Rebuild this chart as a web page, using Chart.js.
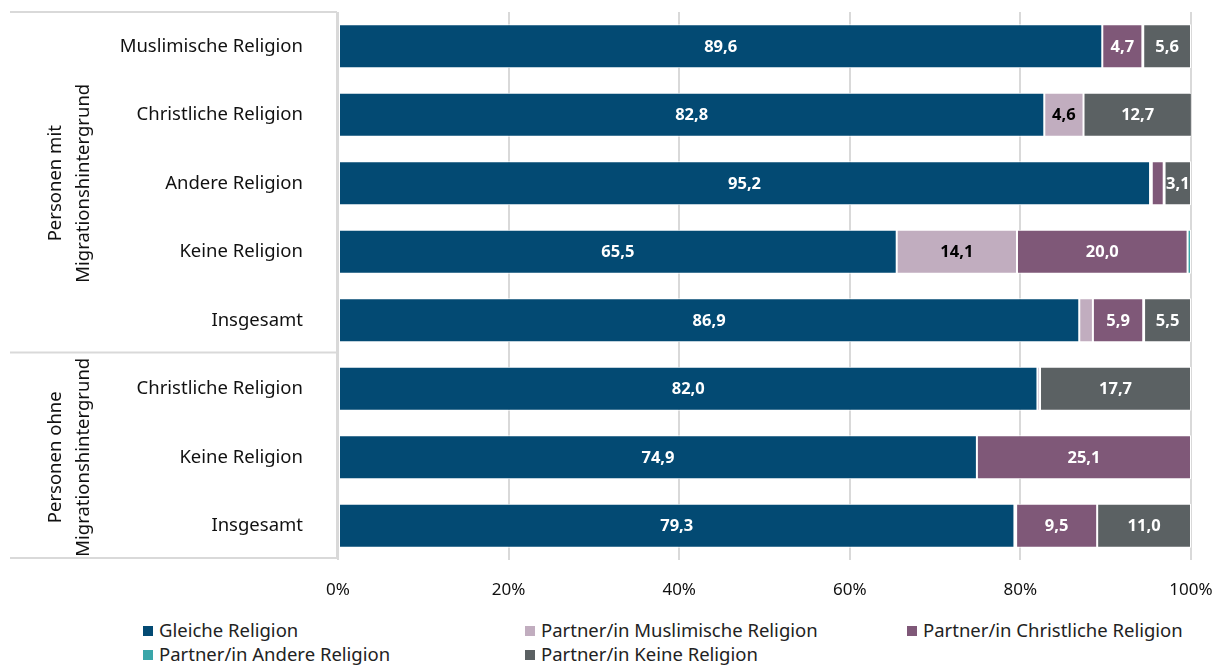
<!DOCTYPE html>
<html lang="de">
<head>
<meta charset="utf-8">
<script src="https://cdn.jsdelivr.net/npm/chart.js@4.4.1/dist/chart.umd.min.js"></script>
<style>
  body { margin: 0; background: #fff; font-family: "Noto Sans", sans-serif; }
  #wrap { position: relative; width: 1224px; height: 666px; }
  #chart { position: absolute; left: 0; top: 0; }
  .leg { position: absolute; font-size: 18.5px; color: #222; white-space: nowrap; line-height: 22px; }
  .leg i { display: inline-block; width: 10px; height: 10px; margin-right: 6px; vertical-align: 1px; }
</style>
</head>
<body>
<div id="wrap">
  <canvas id="chart" width="1224" height="610"></canvas>
  <div id="legend"></div>
</div>
<script>
const categories = ['Muslimische Religion', 'Christliche Religion', 'Andere Religion', 'Keine Religion',
  'Insgesamt', 'Christliche Religion', 'Keine Religion', 'Insgesamt'];
const groups = [
  { lines: ['Personen mit', 'Migrationshintergrund'], from: 0, to: 4 },
  { lines: ['Personen ohne', 'Migrationshintergrund'], from: 5, to: 7 }
];
const xTicks = [0, 20, 40, 60, 80, 100];

const gleiche   = [89.6, 82.8, 95.2, 65.5, 86.9, 82.0, 74.9, 79.3];
const muslim    = [0, 4.6, 0.2, 14.1, 1.6, 0.3, 0, 0.2];
const christ    = [4.7, 0, 1.4, 20.0, 5.9, 0, 25.1, 9.5];
const andere    = [0.1, 0, 0.1, 0.4, 0.1, 0, 0, 0];
const keine     = [5.6, 12.7, 3.1, 0, 5.5, 17.7, 0, 11.0];

const series = [
  { label: 'Gleiche Religion', data: gleiche, color: '#034a73', text: '#fff' },
  { label: 'Partner/in Muslimische Religion', data: muslim, color: '#c1adbf', text: '#000' },
  { label: 'Partner/in Christliche Religion', data: christ, color: '#7f5878', text: '#fff' },
  { label: 'Partner/in Andere Religion', data: andere, color: '#3aa6a9', text: '#fff' },
  { label: 'Partner/in Keine Religion', data: keine, color: '#5b6163', text: '#fff' }
];

const FONT = '"Noto Sans", sans-serif';
const LINE = '#d9d9d9';

// Werte in die Balken schreiben
const valueLabels = {
  id: 'valueLabels',
  afterDatasetsDraw(chart) {
    const ctx = chart.ctx;
    ctx.save();
    ctx.font = 'bold 16.5px ' + FONT;
    ctx.textAlign = 'center';
    ctx.textBaseline = 'middle';
    chart.data.datasets.forEach((ds, i) => {
      const meta = chart.getDatasetMeta(i);
      meta.data.forEach((bar, j) => {
        const v = ds.data[j];
        if (v < 3) return;
        ctx.fillStyle = series[i].text;
        ctx.fillText(v.toFixed(1).replace('.', ','), (bar.x + bar.base) / 2, bar.y + 1);
      });
    });
    ctx.restore();
  }
};

// Gruppen-Beschriftung links mit Rahmenlinien
const groupBox = {
  id: 'groupBox',
  afterDraw(chart) {
    const ctx = chart.ctx;
    const y = chart.scales.y;
    const area = chart.chartArea;
    const step = y.getPixelForValue(1) - y.getPixelForValue(0);
    ctx.save();
    ctx.strokeStyle = LINE;
    ctx.lineWidth = 2;
    const xr = area.left - 1;
    const edges = [area.top];
    groups.forEach(g => edges.push(y.getPixelForValue(g.to) + step / 2 - 2));
    ctx.beginPath();
    edges.forEach(e => { ctx.moveTo(10, e); ctx.lineTo(xr, e); });
    ctx.moveTo(xr, area.top);
    ctx.lineTo(xr, edges[edges.length - 1]);
    ctx.stroke();

    ctx.fillStyle = '#111';
    ctx.font = '18.5px ' + FONT;
    ctx.textAlign = 'center';
    ctx.textBaseline = 'middle';
    groups.forEach(g => {
      const cy = (y.getPixelForValue(g.from) + y.getPixelForValue(g.to)) / 2;
      g.lines.forEach((t, k) => {
        ctx.save();
        ctx.translate(56 + k * 28, cy);
        ctx.rotate(-Math.PI / 2);
        ctx.fillText(t, 0, 0);
        ctx.restore();
      });
    });
    ctx.restore();
  }
};

new Chart(document.getElementById('chart'), {
  type: 'bar',
  data: {
    labels: categories,
    datasets: series.map(s => ({
      label: s.label,
      data: s.data,
      backgroundColor: s.color,
      borderColor: '#fff',
      borderWidth: 1,
      borderSkipped: false,
      barPercentage: 0.64,
      categoryPercentage: 1
    }))
  },
  options: {
    indexAxis: 'y',
    responsive: false,
    animation: false,
    layout: { padding: { top: 12, right: 33, left: 0, bottom: 0 } },
    plugins: { legend: { display: false }, tooltip: { enabled: false } },
    scales: {
      x: {
        stacked: true,
        min: 0,
        max: 100,
        afterBuildTicks: s => { s.ticks = xTicks.map(v => ({ value: v })); },
        afterFit: s => { s.height = 50; s.paddingLeft = 0; s.paddingRight = 0; },
        grid: { color: LINE, lineWidth: 2, drawTicks: false },
        border: { display: false },
        ticks: { padding: 20, color: '#111', font: { family: FONT, size: 17 }, callback: v => v + '%' }
      },
      y: {
        stacked: true,
        afterFit: s => { s.width = 338; s.paddingTop = 0; s.paddingBottom = 0; },
        grid: { display: false },
        border: { display: false },
        ticks: { padding: 27, color: '#111', font: { family: FONT, size: 18.5 } }
      }
    }
  },
  plugins: [valueLabels, groupBox]
});

// Legende in drei Spalten
const legendPos = [[143, 619], [525, 619], [907, 619], [143, 643], [525, 643]];
document.getElementById('legend').innerHTML = series.map((s, i) =>
  `<div class="leg" style="left:${legendPos[i][0]}px;top:${legendPos[i][1]}px"><i style="background:${s.color}"></i>${s.label}</div>`
).join('');
</script>
</body>
</html>
